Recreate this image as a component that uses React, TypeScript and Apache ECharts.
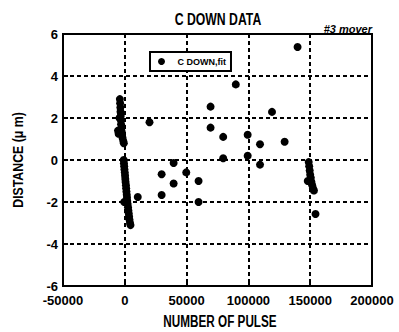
import React, { useEffect, useRef } from "react";
import * as echarts from "echarts";

const titleText = "C DOWN DATA";
const subtitleText = "#3 mover";
const seriesName = "C DOWN,fit";
const xName = "NUMBER OF PULSE";
const yName = "DISTANCE (\u03bc m)";

const xMin = -50000;
const xMax = 200000;
const xStep = 50000;
const yMin = -6;
const yMax = 6;
const yStep = 2;

// scattered points
const scatterPoints: [number, number][] = [
  [20000, 1.8], [69400, 2.54], [89800, 3.6], [119100, 2.29], [139800, 5.38],
  [69400, 1.54], [79600, 1.1], [99400, 1.2], [109400, 0.75], [129300, 0.87],
  [79600, 0.08], [99400, 0.2], [109400, -0.22], [39500, -0.14], [29800, -0.68],
  [49700, -0.59], [39500, -1.12], [59700, -1.0], [29800, -1.67], [59700, -2.0],
  [10500, -1.76], [154300, -2.57],
];

// dense streak near zero (upper part)
const streakUpper: [number, number][] = [
  [-4000, 2.9], [-3800, 2.7], [-3600, 2.5], [-3500, 2.3], [-3300, 2.1],
  [-4300, 2.0], [-3200, 1.9], [-3000, 1.7], [-2800, 1.5], [-2500, 1.35],
  [-5500, 1.4], [-5000, 1.25], [-2200, 1.2], [-1800, 1.05], [-1200, 0.9], [-800, 0.8],
];

// dense streak near zero (lower part)
const streakLower: [number, number][] = [
  [-900, 0.0], [-700, -0.15], [-500, -0.3], [-300, -0.45], [0, -0.6],
  [200, -0.75], [400, -0.9], [600, -1.05], [900, -1.2], [1100, -1.35],
  [1300, -1.5], [1600, -1.65], [1800, -1.8], [2000, -1.95], [-500, -2.0],
  [2300, -2.1], [2600, -2.25], [2900, -2.4], [3200, -2.55], [3500, -2.7],
  [3800, -2.85], [4200, -3.0], [4600, -3.1],
];

// streak near 150000
const streakRight: [number, number][] = [
  [148800, -0.1], [149200, -0.3], [149600, -0.5], [150000, -0.7],
  [150500, -0.85], [148000, -1.0], [151000, -1.05], [151600, -1.2],
  [152300, -1.35], [153000, -1.45],
];

const FONT = "'Liberation Sans', Arial, sans-serif";

export default function App() {
  const ref = useRef<HTMLDivElement>(null);
  useEffect(() => {
    if (!ref.current) return;
    const chart = echarts.init(ref.current, null, { renderer: "svg" });
    const allData = [...scatterPoints, ...streakUpper, ...streakLower, ...streakRight];
    chart.setOption({
      animation: false,
      grid: {
        show: true,
        left: 63,
        right: 27,
        top: 34,
        bottom: 46,
        borderColor: "#000",
        borderWidth: 2,
        backgroundColor: "transparent",
      },
      legend: {
        left: 150,
        top: 52,
        orient: "horizontal",
        data: [seriesName],
        icon: "circle",
        itemWidth: 22,
        itemHeight: 7,
        itemGap: 5,
        padding: [5, 5, 5, 8],
        borderColor: "#000",
        borderWidth: 2,
        borderRadius: 0,
        backgroundColor: "#fff",
        z: 10,
        textStyle: { fontFamily: FONT, fontWeight: "bold", fontSize: 9, color: "#000" },
      },
      xAxis: {
        type: "value",
        min: xMin,
        max: xMax,
        interval: xStep,
        axisLine: { show: true, onZero: false, lineStyle: { color: "black", width: 2 } },
        axisTick: { show: true, length: -5, lineStyle: { color: "black", width: 2 } },
        axisLabel: { show: true, margin: 8, color: "black", fontFamily: FONT, fontWeight: "bold", fontSize: 13, formatter: (v: number) => String(v) },
        splitLine: { show: true, lineStyle: { color: "black", width: 2, type: [4, 3] } },
      },
      yAxis: {
        type: "value",
        min: yMin,
        max: yMax,
        interval: yStep,
        axisLine: { show: true, onZero: false, lineStyle: { color: "black", width: 2 } },
        axisTick: { show: true, length: -5, lineStyle: { color: "black", width: 2 } },
        axisLabel: { show: true, margin: 5, color: "black", fontFamily: FONT, fontWeight: "bold", fontSize: 13 },
        splitLine: { show: true, lineStyle: { color: "black", width: 2, type: [4, 3] } },
      },
      series: [
        {
          name: seriesName,
          type: "scatter",
          symbol: "circle",
          symbolSize: 8,
          itemStyle: { color: "#000", opacity: 1 },
          data: allData,
          z: 5,
        },
      ],
      graphic: [
        {
          type: "text",
          x: 218,
          y: 19,
          scaleX: 0.72,
          style: { text: titleText, fontFamily: FONT, fontWeight: "bold", fontSize: 17, fill: "#000", align: "center", verticalAlign: "middle" },
        },
        {
          type: "text",
          x: 372,
          y: 29,
          style: { text: subtitleText, fontFamily: FONT, fontWeight: "bold", fontStyle: "italic", fontSize: 11, fill: "#000", align: "right", verticalAlign: "middle" },
        },
        {
          type: "text",
          x: 220,
          y: 321,
          scaleX: 0.69,
          style: { text: xName, fontFamily: FONT, fontWeight: "bold", fontSize: 17, fill: "#000", align: "center", verticalAlign: "middle" },
        },
        {
          type: "text",
          x: 18,
          y: 160,
          rotation: Math.PI / 2,
          scaleX: 0.88,
          style: { text: yName, fontFamily: FONT, fontWeight: "bold", fontSize: 14, fill: "#000", align: "center", verticalAlign: "middle" },
        },
      ],
    });
    return () => chart.dispose();
  }, []);
  return <div ref={ref} style={{ position: "absolute", left: 0, top: 0, width: 399, height: 332 }} />;
}
